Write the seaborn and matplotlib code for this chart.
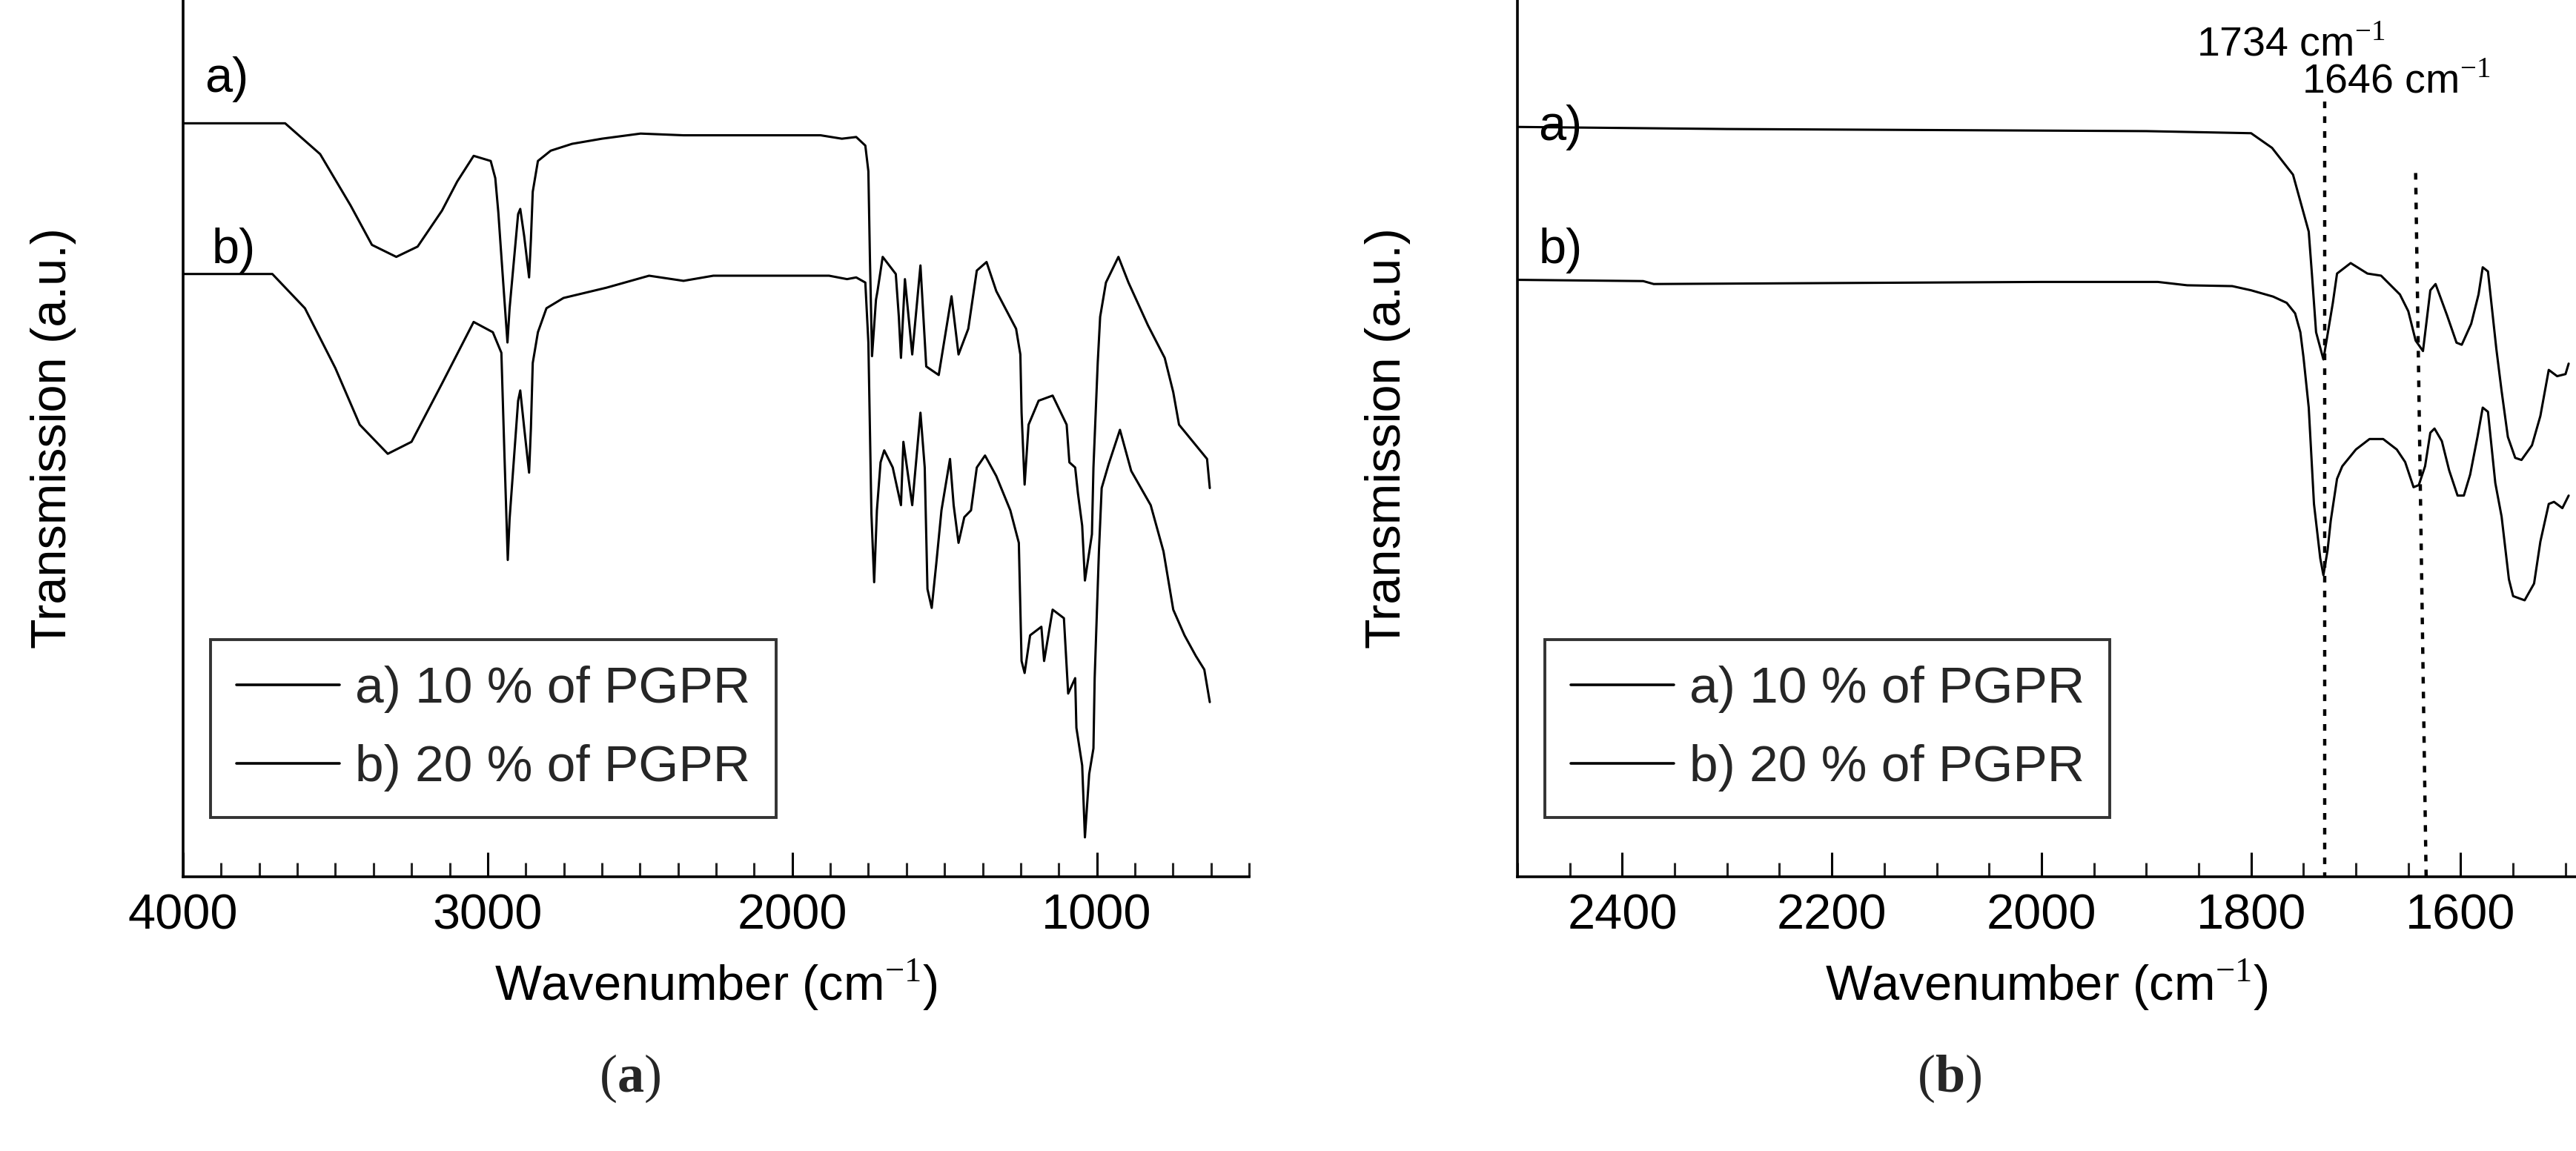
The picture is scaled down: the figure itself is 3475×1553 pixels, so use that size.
import numpy as np
import pandas as pd
import matplotlib
matplotlib.use("Agg")
import matplotlib.pyplot as plt
import seaborn as sns

sns.set_theme(style="white")
plt.rcParams['font.family'] = ['Liberation Sans', 'DejaVu Sans']
plt.rcParams['mathtext.fontset'] = 'custom'
plt.rcParams['mathtext.rm'] = 'Liberation Serif'
plt.rcParams['mathtext.bf'] = 'Liberation Serif:bold'

# ---------- panel (a): full spectrum (y = depth from top, arbitrary units) ----------
wn_a_full = [4000, 3665, 3550, 3450, 3380, 3300, 3230, 3150, 3100, 3046, 2990, 2975, 2965, 2958, 2945, 2935,
             2928, 2900, 2893, 2880, 2864, 2858, 2852, 2835, 2793, 2723, 2625, 2498, 2357, 1907, 1837,
             1790, 1760, 1750, 1745, 1738, 1725, 1720, 1703, 1660, 1650, 1643, 1630, 1606, 1579, 1560, 1519,
             1477, 1454, 1422, 1394, 1362, 1330, 1265, 1251, 1247, 1237, 1224, 1191, 1145, 1099, 1090, 1071,
             1062, 1048, 1039, 1016, 1011, 997, 989, 970, 929, 896, 832, 777, 749, 730, 684, 638, 629]
tr_a_full = [72, 72, 90, 120, 143, 150, 144, 123, 106, 91, 94, 104, 124, 142, 175, 200,
             180, 125, 122, 138, 162, 140, 112, 94, 88, 84, 81, 78, 79, 79, 81,
             80, 85, 100, 150, 208, 175, 170, 150, 160, 185, 209, 163, 207, 155, 214, 219,
             173, 207, 192, 158, 153, 170, 192, 207, 241, 283, 248, 234, 231, 248, 270, 273,
             288, 307, 339, 312, 273, 212, 185, 165, 150, 165, 190, 209, 229, 248, 258, 268, 285]

wn_b_full = [4000, 3707, 3600, 3500, 3420, 3328, 3250, 3150, 3046, 2983, 2955, 2945, 2934, 2928, 2900, 2893,
             2880, 2864, 2858, 2852, 2835, 2807, 2751, 2610, 2470, 2357, 2259, 1879, 1820,
             1790, 1760, 1750, 1740, 1731, 1722, 1710, 1698, 1670, 1643, 1635, 1606, 1579, 1565, 1556, 1542,
             1527, 1510, 1482, 1470, 1454, 1435, 1413, 1394, 1367, 1330, 1284, 1256, 1247, 1237, 1219, 1182,
             1173, 1145, 1108, 1094, 1071, 1067, 1048, 1039, 1025, 1011, 1007, 993, 984, 961, 924, 887, 823,
             781, 749, 712, 675, 647, 629]
tr_b_full = [160, 160, 180, 215, 248, 265, 258, 224, 188, 194, 206, 265, 327, 303, 234, 228,
             250, 276, 250, 212, 194, 180, 174, 168, 161, 164, 161, 161, 163,
             162, 165, 200, 300, 340, 298, 270, 263, 273, 295, 258, 295, 241, 273, 344, 355,
             329, 298, 268, 295, 317, 302, 298, 273, 266, 278, 298, 317, 386, 393, 371, 366,
             386, 356, 361, 405, 396, 425, 447, 489, 452, 437, 396, 322, 285, 271, 251, 275, 295,
             322, 356, 371, 383, 391, 410]

# ---------- panel (b): zoom 2500-1500 (y = height above axis, arbitrary units) ----------
wn_a_zoom = [2500, 2300, 1900, 1800, 1780, 1760, 1745, 1742, 1738, 1731, 1726, 1722, 1718, 1705, 1689, 1676,
             1658, 1650, 1643, 1636, 1629, 1624, 1613, 1604, 1599, 1590, 1583, 1579, 1574, 1566, 1561,
             1555, 1548, 1542, 1532, 1524, 1516, 1508, 1500, 1497]
tr_a_zoom = [1790, 1785, 1780, 1775, 1740, 1676, 1540, 1440, 1300, 1235, 1310, 1370, 1440, 1465, 1440, 1435,
             1390, 1350, 1280, 1255, 1400, 1415, 1340, 1275, 1270, 1320, 1390, 1455, 1445, 1260, 1160,
             1050, 1000, 995, 1030, 1100, 1210, 1195, 1200, 1225]

wn_b_zoom = [2500, 2380, 2370, 2000, 1889, 1861, 1818, 1800, 1779, 1766, 1758, 1753, 1750, 1745, 1740, 1734,
             1731, 1727, 1724, 1718, 1713, 1700, 1687, 1674, 1661, 1653, 1645, 1640, 1634, 1629, 1625,
             1618, 1611, 1603, 1597, 1591, 1584, 1579, 1574, 1567, 1561, 1554, 1550, 1539, 1530, 1524,
             1516, 1511, 1503, 1497]
tr_b_zoom = [1425, 1422, 1415, 1420, 1420, 1412, 1410, 1400, 1385, 1370, 1345, 1300, 1240, 1120, 890, 760,
             720, 780, 850, 950, 980, 1020, 1045, 1045, 1020, 990, 930, 935, 980, 1060, 1070,
             1040, 970, 910, 910, 960, 1050, 1120, 1110, 940, 860, 710, 670, 660, 700, 800,
             890, 895, 880, 910]

marker_wn = [1730, 1730]
marker_top = [1850, 0]
marker2_wn = [1643, 1633]
marker2_top = [1680, 0]

labels = ["a) 10 % of PGPR", "b) 20 % of PGPR"]

def frame(wn_a, tr_a, wn_b, tr_b):
    da = pd.DataFrame({"wn": wn_a, "tr": tr_a, "s": labels[0]})
    db = pd.DataFrame({"wn": wn_b, "tr": tr_b, "s": labels[1]})
    return pd.concat([da, db], ignore_index=True)

W, H = 3475, 1553
dpi = 200
fig = plt.figure(figsize=(W / dpi, H / dpi), dpi=dpi)
axL = fig.add_axes([247 / W, 1 - 1183 / H, 1438 / W, 1183 / H])
axR = fig.add_axes([2047 / W, 1 - 1183 / H, 1428 / W, 1183 / H])

FS = 24
lw = 1.1

# left
dfL = frame(wn_a_full, [-v for v in tr_a_full], wn_b_full, [-v for v in tr_b_full])
sns.lineplot(data=dfL, x="wn", y="tr", hue="s", palette=["black", "black"], sort=False,
             estimator=None, linewidth=lw, ax=axL, legend=True)
axL.set_xlim(4000, 500)
axL.set_ylim(-512, 0)
axL.set_xticks([4000, 3000, 2000, 1000])
axL.set_xticks(np.arange(4000, 499, -125), minor=True)

# right
dfR = frame(wn_a_zoom, tr_a_zoom, wn_b_zoom, tr_b_zoom)
sns.lineplot(data=dfR, x="wn", y="tr", hue="s", palette=["black", "black"], sort=False,
             estimator=None, linewidth=lw, ax=axR, legend=True)
axR.plot(marker_wn, marker_top, color="black", linestyle=(0, (2, 2.5)), linewidth=1.6)
axR.plot(marker2_wn, marker2_top, color="black", linestyle=(0, (2, 2.5)), linewidth=1.6)
axR.set_xlim(2500, 1490)
axR.set_ylim(0, 2093)
axR.set_xticks([2400, 2200, 2000, 1800, 1600])
axR.set_xticks(np.arange(2500, 1489, -50), minor=True)
axR.text(1762, 1985, "1734 cm$^{-1}$", fontsize=20, ha="center", va="center", color="black")
axR.text(1662, 1895, "1646 cm$^{-1}$", fontsize=20, ha="center", va="center", color="black")

for ax in (axL, axR):
    for s in ("top", "right"):
        ax.spines[s].set_visible(False)
    for s in ("left", "bottom"):
        ax.spines[s].set_color("black")
        ax.spines[s].set_linewidth(1.3)
    ax.set_yticks([])
    ax.tick_params(axis="x", which="major", direction="in", length=12, width=1.1, labelsize=FS,
                   colors="black", pad=8, bottom=True)
    ax.tick_params(axis="x", which="minor", direction="in", length=7, width=1.1, bottom=True)
    ax.set_xlabel("Wavenumber (cm$^{-1}$)", fontsize=FS, color="black", labelpad=9)
    ax.set_ylabel("Transmission (a.u.)", fontsize=FS, color="black", labelpad=52)
    leg = ax.legend(loc="lower left", bbox_to_anchor=(0.026, 0.068), borderaxespad=0, fontsize=25,
                    frameon=True, fancybox=False, edgecolor="black", handlelength=2.0,
                    handletextpad=0.3, borderpad=0.5, labelspacing=0.6, title=None)
    leg.get_frame().set_linewidth(1.4)
    for line in leg.get_lines():
        line.set_linewidth(1.3)

axL.text(0.02, 0.895, "a)", transform=axL.transAxes, fontsize=FS, color="black")
axL.text(0.027, 0.70, "b)", transform=axL.transAxes, fontsize=FS, color="black")
axR.text(0.02, 0.84, "a)", transform=axR.transAxes, fontsize=FS, color="black")
axR.text(0.02, 0.70, "b)", transform=axR.transAxes, fontsize=FS, color="black")

fig.text(850 / W, 1 - 1455 / H, r"$\mathrm{(}\mathbf{a}\mathrm{)}$", fontsize=26, ha="center", va="center")
fig.text(2630 / W, 1 - 1455 / H, r"$\mathrm{(}\mathbf{b}\mathrm{)}$", fontsize=26, ha="center", va="center")

fig.savefig("out.png", dpi=dpi, facecolor="white")
